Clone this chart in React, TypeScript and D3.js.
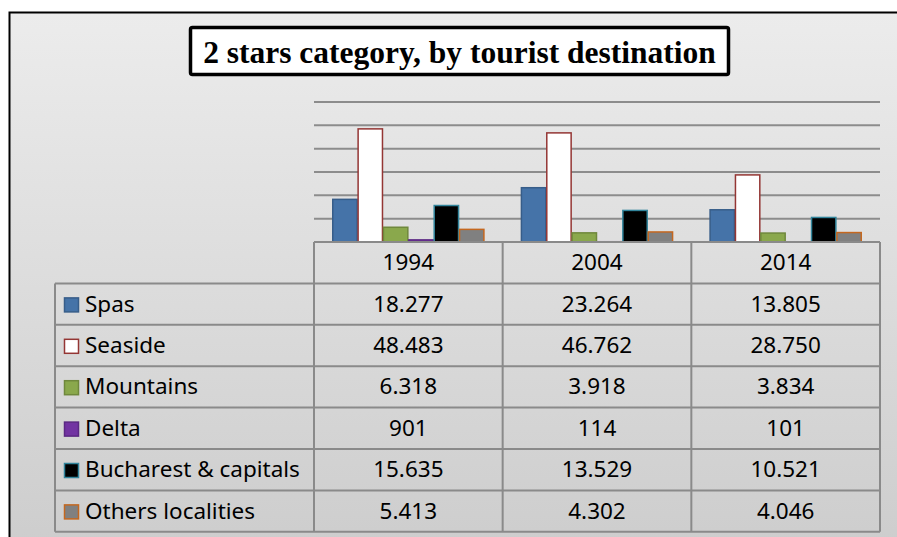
import React, { useEffect, useRef } from 'react';
import * as d3 from 'd3';

const years = ['1994', '2004', '2014'];
const seriesNames = ['Spas', 'Seaside', 'Mountains', 'Delta', 'Bucharest & capitals', 'Others localities'];
const spas = [18277, 23264, 13805];
const seaside = [48483, 46762, 28750];
const mountains = [6318, 3918, 3834];
const delta = [901, 114, 101];
const bucharest = [15635, 13529, 10521];
const others = [5413, 4302, 4046];
const yTicks = [0, 10000, 20000, 30000, 40000, 50000, 60000];

const fills = ['#4573a8', '#ffffff', '#8aa84c', '#7233a2', '#000000', '#808080'];
const strokes = ['#375d89', '#943634', '#6f883c', '#5b2883', '#31849b', '#c4671f'];

export default function App() {
  const svgRef = useRef<SVGSVGElement>(null);

  useEffect(() => {
    if (!svgRef.current) return;
    const svg = d3.select(svgRef.current);
    svg.selectAll('*').remove();

    const width = 897;
    const height = 537;
    const values = [spas, seaside, mountains, delta, bucharest, others];

    // background gradient
    const defs = svg.append('defs');
    const grad = defs.append('linearGradient')
      .attr('id', 'bg')
      .attr('x1', 0).attr('y1', 0).attr('x2', 0).attr('y2', 1);
    grad.append('stop').attr('offset', '0%').attr('stop-color', '#ececec');
    grad.append('stop').attr('offset', '100%').attr('stop-color', '#cdcdcd');

    svg.append('rect')
      .attr('x', 9).attr('y', 12)
      .attr('width', width).attr('height', height)
      .attr('fill', 'url(#bg)');
    svg.append('path')
      .attr('d', `M9.5,${height} V12.5 H${width}`)
      .attr('fill', 'none')
      .attr('stroke', '#000')
      .attr('stroke-width', 2);

    const plotLeft = 314;
    const plotRight = 880;
    const baseY = 242;
    const tableLeft = 55;
    const rowH = 41.4;

    const x0 = d3.scaleBand<string>().domain(years).range([plotLeft, plotRight]).padding(0);
    const x1 = d3.scaleBand<string>()
      .domain(seriesNames)
      .range([0, x0.bandwidth()])
      .paddingInner(0)
      .paddingOuter(0.72);
    const y = d3.scaleLinear().domain([0, 60000]).range([baseY, 102]);

    // gridlines
    svg.append('g')
      .selectAll('line')
      .data(yTicks.slice(1))
      .enter()
      .append('line')
      .attr('x1', plotLeft).attr('x2', plotRight)
      .attr('y1', d => y(d)).attr('y2', d => y(d))
      .attr('stroke', '#8c8c8c')
      .attr('stroke-width', 2);

    // bars
    seriesNames.forEach((name, si) => {
      svg.append('g')
        .selectAll('rect')
        .data(values[si])
        .enter()
        .append('rect')
        .attr('x', (d, i) => (x0(years[i]) as number) + (x1(name) as number) + 0.5)
        .attr('y', d => y(d))
        .attr('width', x1.bandwidth() - 1)
        .attr('height', d => baseY - y(d))
        .attr('fill', fills[si])
        .attr('stroke', strokes[si])
        .attr('stroke-width', 1.5);
    });

    // data table
    const fmt = d3.formatLocale({ decimal: ',', thousands: '.', grouping: [3], currency: ['', ''] }).format(',d');
    const grid = svg.append('g').attr('stroke', '#8a8a8a').attr('stroke-width', 2).attr('fill', 'none');
    const tableBottom = baseY + rowH * 7;
    // header row
    grid.append('line').attr('x1', plotLeft).attr('x2', plotRight).attr('y1', baseY).attr('y2', baseY);
    for (let r = 1; r <= 7; r++) {
      grid.append('line')
        .attr('x1', tableLeft).attr('x2', plotRight)
        .attr('y1', baseY + rowH * r).attr('y2', baseY + rowH * r);
    }
    grid.append('line').attr('x1', tableLeft).attr('x2', tableLeft).attr('y1', baseY + rowH).attr('y2', tableBottom);
    years.forEach(yr => {
      grid.append('line')
        .attr('x1', x0(yr) as number).attr('x2', x0(yr) as number)
        .attr('y1', baseY).attr('y2', tableBottom);
    });
    grid.append('line').attr('x1', plotRight).attr('x2', plotRight).attr('y1', baseY).attr('y2', tableBottom);

    const font = "'Noto Sans', sans-serif";
    const fs = '22.5px';
    svg.append('g')
      .selectAll('text')
      .data(years)
      .enter()
      .append('text')
      .attr('x', d => (x0(d) as number) + x0.bandwidth() / 2)
      .attr('y', baseY + rowH / 2 + 7.5)
      .attr('text-anchor', 'middle')
      .style('font-family', font)
      .style('font-size', fs)
      .attr('fill', '#000')
      .text(d => d);

    seriesNames.forEach((name, si) => {
      const rowY = baseY + rowH * (si + 1);
      svg.append('rect')
        .attr('x', 64.5).attr('y', rowY + 14.5)
        .attr('width', 14).attr('height', 14)
        .attr('fill', fills[si])
        .attr('stroke', strokes[si])
        .attr('stroke-width', 1.5);
      svg.append('text')
        .attr('x', 85)
        .attr('y', rowY + rowH / 2 + 7.5)
        .style('font-family', font)
        .style('font-size', fs)
        .attr('fill', '#000')
        .text(name);
      values[si].forEach((v, i) => {
        svg.append('text')
          .attr('x', (x0(years[i]) as number) + x0.bandwidth() / 2)
          .attr('y', rowY + rowH / 2 + 7.5)
          .attr('text-anchor', 'middle')
          .style('font-family', font)
          .style('font-size', fs)
          .attr('fill', '#000')
          .text(fmt(v));
      });
    });

    // title box
    svg.append('rect')
      .attr('x', 190.5).attr('y', 27.5)
      .attr('width', 538).attr('height', 47)
      .attr('rx', 2)
      .attr('fill', '#fff')
      .attr('stroke', '#000')
      .attr('stroke-width', 3.5);
    svg.append('text')
      .attr('x', 459.5)
      .attr('y', 63)
      .attr('text-anchor', 'middle')
      .style('font-family', "'Liberation Serif', serif")
      .style('font-weight', 'bold')
      .style('font-size', '31.5px')
      .attr('fill', '#000')
      .text('2 stars category, by tourist destination');
  }, []);

  return (
    <svg
      ref={svgRef}
      width={897}
      height={537}
      style={{ position: 'absolute', left: 0, top: 0, background: '#fff' }}
    />
  );
}
